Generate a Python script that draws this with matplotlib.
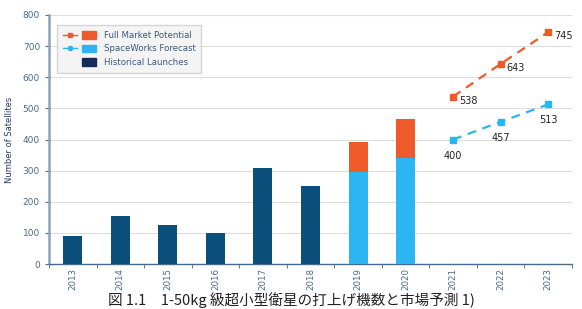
import matplotlib.pyplot as plt
from matplotlib.lines import Line2D
from matplotlib.patches import Patch
from matplotlib.legend_handler import HandlerTuple

years = ['2013', '2014', '2015', '2016', '2017', '2018', '2019', '2020', '2021', '2022', '2023']
historical = [91, 155, 125, 100, 307, 250, 0, 0, 0, 0, 0]
forecast_bars = [0, 0, 0, 0, 0, 0, 295, 340, 0, 0, 0]
potential_bars = [0, 0, 0, 0, 0, 0, 393, 465, 0, 0, 0]
line_years = ['2021', '2022', '2023']
full_market = [538, 643, 745]
spaceworks = [400, 457, 513]

c_hist = '#0b4f7a'
c_fc = '#2bb5f3'
c_full = '#ee5a2a'
c_axis = '#4a6a8c'

plt.rcParams['font.family'] = ['DejaVu Sans']
fig = plt.figure(figsize=(5.82, 3.09), dpi=100)
ax = fig.add_axes([49 / 582, 1 - 264 / 309, 523 / 582, 249 / 309])

x = list(range(len(years)))
w = 0.4
ax.bar(x, historical, width=w, color=c_hist, zorder=3)
ax.bar(x, potential_bars, width=w, color=c_full, zorder=3)
ax.bar(x, forecast_bars, width=w, color=c_fc, zorder=3)

lx = [years.index(y) for y in line_years]
ax.plot(lx, full_market, color=c_full, ls=(0, (4, 3)), lw=1.6, marker='s', ms=4, zorder=4)
ax.plot(lx, spaceworks, color=c_fc, ls=(0, (4, 3)), lw=1.6, marker='s', ms=4, zorder=4)

for xi, v in zip(lx, full_market):
    ax.annotate(str(v), (xi, v), xytext=(4, -3), textcoords='offset points',
                fontsize=7, color='#222222', va='center', ha='left')
for xi, v in zip(lx, spaceworks):
    ax.annotate(str(v), (xi, v), xytext=(0, -8), textcoords='offset points',
                fontsize=7, color='#222222', va='top', ha='center')

ax.set_xlim(-0.5, 10.5)
ax.set_ylim(0, 800)
ax.set_yticks(range(0, 801, 100))
ax.set_xticks(x)
ax.set_xticklabels(years, rotation=90, fontsize=6.2, color=c_axis)
ax.tick_params(axis='y', labelsize=6.5, labelcolor=c_axis, color=c_axis, length=3, width=0.8)
ax.set_xticks([i - 0.5 for i in range(12)], minor=True)
ax.tick_params(axis='x', which='major', length=0, pad=3)
ax.tick_params(axis='x', which='minor', length=3, color=c_axis)
ax.grid(axis='y', color='#dddddd', lw=0.8, zorder=0)
for s in ['top', 'right']:
    ax.spines[s].set_visible(False)
ax.spines['left'].set_color('#8aa3bb')
ax.spines['left'].set_linewidth(1.8)
ax.spines['bottom'].set_color(c_axis)
ax.spines['bottom'].set_linewidth(1)
ax.set_ylabel('Number of Satellites', fontsize=6, color='#1f3a66', labelpad=6)

h_full = (Line2D([], [], color=c_full, marker='s', ms=3, lw=1),
          Patch(color=c_full))
h_fc = (Line2D([], [], color=c_fc, marker='o', ms=3, lw=1),
        Patch(color=c_fc))
h_hist = (Line2D([], [], color='none'), Patch(color='#152a5c'))
leg = ax.legend([h_full, h_fc, h_hist],
                ['Full Market Potential', 'SpaceWorks Forecast', 'Historical Launches'],
                handler_map={tuple: HandlerTuple(ndivide=None, pad=0.5)},
                loc='upper left', bbox_to_anchor=(8 / 523, 1 - 10 / 249), borderaxespad=0,
                fontsize=6.2, handlelength=3.8, handletextpad=0.9, frameon=True,
                fancybox=False, borderpad=0.7, labelspacing=0.5, handleheight=1.0)
leg.get_frame().set_facecolor('#f2f2f2')
leg.get_frame().set_edgecolor('#cccccc')
for t in leg.get_texts():
    t.set_color('#3a5a80')

fig.text(0.5, 0.5 / 309, '図 1.1　1-50kg 級超小型衛星の打上げ機数と市場予測 1)',
         ha='center', va='bottom', fontsize=10.5,
         family=['Noto Sans CJK JP', 'DejaVu Sans'], color='#222222')

fig.savefig('out.png', dpi=100)
